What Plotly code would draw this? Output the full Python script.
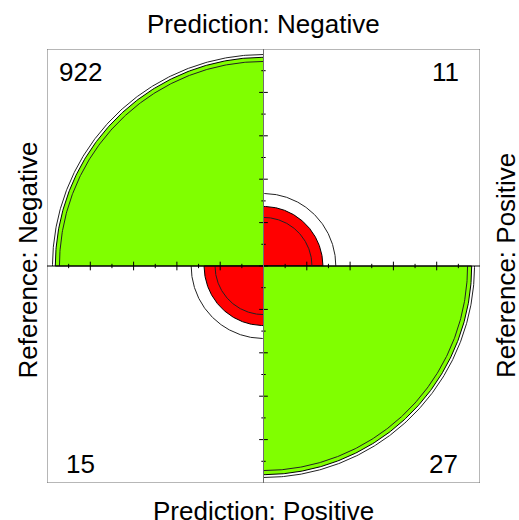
"""Fourfold plot of a 2x2 confusion matrix (prediction vs reference)."""

import numpy as np
import plotly.graph_objects as go

# counts in quadrant order: top-left, top-right, bottom-left, bottom-right
counts = [922, 11, 15, 27]
pred_labels = ["Prediction: Negative", "Prediction: Positive"]
ref_labels = ["Reference: Negative", "Reference: Positive"]
conf_level = 0.95

GREEN = "#80FF00"
RED = "#FF0000"
FONT = "Liberation Sans, Arial, sans-serif"

# quadrant angle spans (deg) and fill colours, same order as counts
ANGLES = [(90, 180), (0, 90), (180, 270), (270, 360)]
COLOURS = [GREEN, RED, RED, GREEN]


def std_cells(odds_ratio):
    # table standardised to equal row and column margins, odds ratio kept
    u = np.sqrt(odds_ratio) / (1 + np.sqrt(odds_ratio))
    return np.array([u, 1 - u, 1 - u, u])


def arc(r, a0, a1, n=200):
    t = np.radians(np.linspace(a0, a1, n))
    return r * np.cos(t), r * np.sin(t)


a, b, c, d = counts
odds = a * d / (b * c)
se = np.sqrt(sum(1.0 / np.array(counts)))
z = 1.959963984540054  # qnorm(0.975)
fit = std_cells(odds)
upper = std_cells(odds * np.exp(z * se))
lower = std_cells(odds * np.exp(-z * se))

fig = go.Figure()

# filled quarter circles
for cell, (a0, a1), col in zip(fit, ANGLES, COLOURS):
    x, y = arc(np.sqrt(cell), a0, a1)
    fig.add_trace(go.Scatter(
        x=np.r_[0, x, 0], y=np.r_[0, y, 0],
        mode="lines", fill="toself", fillcolor=col,
        line=dict(color="black", width=1),
        hoverinfo="skip", showlegend=False,
    ))

# confidence rings
for bound in (upper, lower):
    for cell, (a0, a1) in zip(bound, ANGLES):
        x, y = arc(np.sqrt(cell), a0, a1)
        fig.add_trace(go.Scatter(
            x=x, y=y, mode="lines",
            line=dict(color="#222222", width=1),
            hoverinfo="skip", showlegend=False,
        ))

# axis ticks along the centre cross
tx, ty = [], []
for k in range(-9, 10):
    v = k / 10
    h = 0.02 if k % 2 == 0 else 0.01
    tx += [v, v, None, -h, h, None]
    ty += [-h, h, None, v, v, None]
fig.add_trace(go.Scatter(
    x=tx, y=ty, mode="lines",
    line=dict(color="black", width=1),
    hoverinfo="skip", showlegend=False,
))

fig.add_shape(type="rect", x0=-1, y0=-1, x1=1, y1=1,
              line=dict(color="#6e6e6e", width=1))
fig.add_shape(type="line", x0=-1, y0=0, x1=1, y1=0,
              line=dict(color="black", width=1))
fig.add_shape(type="line", x0=0, y0=-1, x1=0, y1=1,
              line=dict(color="#6e6e6e", width=1))

# cell counts
for n, (x, y) in zip(counts, [(-0.844, 0.893), (0.84, 0.893),
                              (-0.844, -0.911), (0.833, -0.911)]):
    fig.add_annotation(x=x, y=y, text=str(n), showarrow=False,
                       xanchor="center", yanchor="middle",
                       font=dict(size=26, color="black", family=FONT))

# margin labels (paper coords, may sit outside the plot area)
lab = dict(xref="paper", yref="paper", showarrow=False,
           xanchor="center", yanchor="middle",
           font=dict(size=26, color="black", family=FONT))
fig.add_annotation(x=0.5, y=1.0576, text=pred_labels[0], **lab)
fig.add_annotation(x=0.5, y=-0.0645, text=pred_labels[1], **lab)
fig.add_annotation(x=-0.045, y=0.5138, text=ref_labels[0], textangle=-90, **lab)
fig.add_annotation(x=1.06, y=0.502, text=ref_labels[1], textangle=-90, **lab)

fig.update_layout(
    width=519, height=520,
    margin=dict(l=47, r=39, t=49, b=37, pad=0),
    paper_bgcolor="white", plot_bgcolor="white",
    xaxis=dict(range=[-1, 1], visible=False, fixedrange=True),
    yaxis=dict(range=[-1, 1], visible=False, fixedrange=True),
    showlegend=False,
)

# drop the default page margin so the figure fills the window exactly
fig.write_html(
    "out.html",
    config={"displayModeBar": False},
    post_script="document.body.style.margin='0';"
                "document.body.style.overflow='hidden';",
)
